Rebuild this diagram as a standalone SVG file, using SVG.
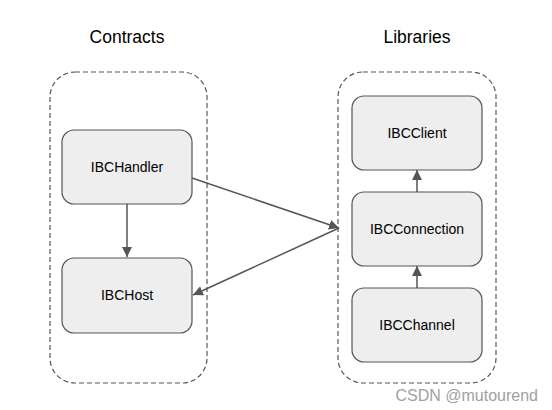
<svg xmlns="http://www.w3.org/2000/svg" width="552" height="410" viewBox="0 0 552 410">
<style>
.grp{fill:none;stroke:#555;stroke-width:1.2;stroke-dasharray:5,3}
.node{fill:#eeeeee;stroke:#555;stroke-width:1.2}
.lbl{font-family:"Liberation Sans",Arial,sans-serif;font-size:14px;fill:#000;text-anchor:middle;dominant-baseline:central}
.title{font-family:"Liberation Sans",Arial,sans-serif;font-size:17.5px;fill:#000;text-anchor:middle;dominant-baseline:central}
.edge{fill:none;stroke:#555;stroke-width:1.5}
</style>
<defs>
<marker id="ah" viewBox="0 0 10 10" refX="10" refY="5" markerWidth="10" markerHeight="10" markerUnits="userSpaceOnUse" orient="auto"><path d="M0,0 L10,5 L0,10 Z" fill="#555"/></marker>
</defs>
<rect width="552" height="410" fill="#fff"/>
<g id="contracts">
<rect class="grp" x="50" y="72" width="157" height="311" rx="25"/>
<text class="title" x="127" y="37">Contracts</text>
</g>
<g id="libraries">
<rect class="grp" x="338" y="72" width="158" height="311" rx="25"/>
<text class="title" x="417" y="37">Libraries</text>
</g>
<g id="IBCHandler"><rect class="node" x="62" y="130" width="130" height="74" rx="12"/><text class="lbl" x="127" y="167">IBCHandler</text></g>
<g id="IBCHost"><rect class="node" x="62" y="258" width="130" height="75" rx="12"/><text class="lbl" x="127" y="295">IBCHost</text></g>
<g id="IBCClient"><rect class="node" x="352" y="96" width="130" height="74" rx="12"/><text class="lbl" x="417" y="133">IBCClient</text></g>
<g id="IBCConnection"><rect class="node" x="352" y="192" width="130" height="74" rx="12"/><text class="lbl" x="417" y="229">IBCConnection</text></g>
<g id="IBCChannel"><rect class="node" x="352" y="288" width="130" height="74" rx="12"/><text class="lbl" x="417" y="325">IBCChannel</text></g>
<g id="connectors">
<line class="edge" x1="127" y1="204" x2="127" y2="257" marker-end="url(#ah)"/>
<line class="edge" x1="192" y1="178" x2="339" y2="228" marker-end="url(#ah)"/>
<line class="edge" x1="339" y1="228" x2="193" y2="295" marker-end="url(#ah)"/>
<line class="edge" x1="417" y1="192" x2="417" y2="170" marker-end="url(#ah)"/>
<line class="edge" x1="417" y1="288" x2="417" y2="266" marker-end="url(#ah)"/>
</g>
<text x="538" y="395" font-family="Liberation Sans,Arial,sans-serif" font-size="16" fill="#a0a0a0" text-anchor="end" dominant-baseline="central">CSDN @mutourend</text>
</svg>
